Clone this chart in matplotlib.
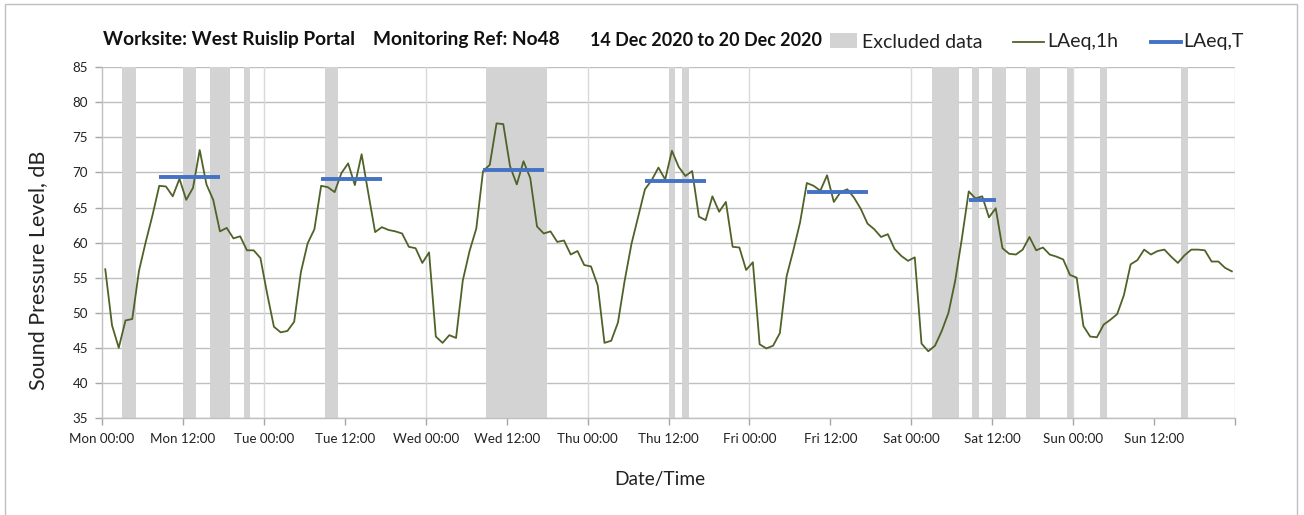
import matplotlib
matplotlib.use("Agg")
import matplotlib.pyplot as plt
from matplotlib.patches import Rectangle
from matplotlib.lines import Line2D

FONT = ["Lato", "DejaVu Sans"]
plt.rcParams['font.family'] = FONT

# ---------------- data ----------------
# hourly LAeq,1h values, Mon 00:00 .. Sun 23:00 (plotted at mid-hour)
laeq_1h = [
    56.2, 48.2, 45.0, 48.9, 49.1, 56.0, 60.1, 63.9, 68.1, 68.0, 66.6, 69.1,
    66.1, 67.8, 73.2, 68.3, 66.1, 61.6, 62.1, 60.6, 60.9, 58.9, 58.9, 57.8,
    52.7, 48.0, 47.2, 47.4, 48.7, 55.8, 59.9, 61.9, 68.1, 67.9, 67.2, 69.9,
    71.3, 68.2, 72.6, 67.0, 61.5, 62.2, 61.8, 61.6, 61.3, 59.4, 59.2, 57.1,
    58.6, 46.6, 45.7, 46.8, 46.4, 54.6, 58.8, 62.0, 70.2, 71.1, 77.0, 76.9,
    70.9, 68.3, 71.6, 69.2, 62.3, 61.3, 61.6, 60.1, 60.3, 58.3, 58.8, 56.8,
    56.6, 53.9, 45.7, 46.0, 48.6, 54.6, 59.8, 63.7, 67.6, 68.9, 70.7, 69.0,
    73.1, 70.8, 69.5, 70.2, 63.7, 63.2, 66.6, 64.4, 65.8, 59.4, 59.3, 56.1,
    57.2, 45.5, 44.9, 45.3, 47.1, 55.2, 58.9, 62.9, 68.5, 68.1, 67.4, 69.6,
    65.8, 67.2, 67.6, 66.4, 64.8, 62.7, 61.9, 60.8, 61.2, 59.1, 58.1, 57.4,
    57.9, 45.6, 44.5, 45.3, 47.4, 50.0, 54.6, 60.7, 67.3, 66.3, 66.6, 63.6,
    64.9, 59.2, 58.4, 58.3, 59.0, 60.8, 58.9, 59.3, 58.3, 58.0, 57.6, 55.4,
    55.0, 48.1, 46.6, 46.5, 48.3, 49.0, 49.8, 52.5, 56.9, 57.5, 59.0, 58.3,
    58.8, 59.0, 58.0, 57.1, 58.2, 59.0, 59.0, 58.9, 57.3, 57.3, 56.4, 55.9,
]
hours = [h + 0.5 for h in range(len(laeq_1h))]

# LAeq,T periods: (first hour, last hour, level)
laeq_t_start = [8.5, 32.5, 56.5, 80.5, 104.5, 128.5]
laeq_t_end = [17.5, 41.5, 65.5, 89.5, 113.5, 132.5]
laeq_t_value = [69.4, 69.0, 70.3, 68.8, 67.2, 66.1]

# excluded data periods (hour from Mon 00:00)
excl_start = [3, 12, 16, 21, 33, 57, 84, 86, 123, 129, 132, 137, 143, 148, 160]
excl_end = [5, 14, 19, 22, 35, 66, 85, 87, 127, 130, 134, 139, 144, 149, 161]

tick_hours = list(range(0, 169, 12))
tick_labels = ["Mon 00:00", "Mon 12:00", "Tue 00:00", "Tue 12:00", "Wed 00:00",
               "Wed 12:00", "Thu 00:00", "Thu 12:00", "Fri 00:00", "Fri 12:00",
               "Sat 00:00", "Sat 12:00", "Sun 00:00", "Sun 12:00", ""]

title_parts = ["Worksite: West Ruislip Portal", "Monitoring Ref: No48",
               "14 Dec 2020 to 20 Dec 2020"]

# ---------------- figure ----------------
W, H = 1304, 515
fig = plt.figure(figsize=(W / 100, H / 100), dpi=100)
fig.patch.set_facecolor("white")

def fx(x):
    return x / W

def fy(y):
    return 1 - y / H

ax = fig.add_axes([fx(101.9), fy(417.9), fx(1235.2) - fx(101.9), fy(67.3) - fy(417.9)])

GREEN = "#4F6228"
BLUE = "#4472C4"
BAND = "#D3D3D3"

for s, e in zip(excl_start, excl_end):
    ax.axvspan(s, e, color=BAND, lw=0, zorder=1)

# grid
for y in range(35, 90, 5):
    ax.axhline(y, color="#BFBFBF", lw=1.0, zorder=0.5)
for d in range(24, 169, 24):
    ax.axvline(d, color="#D9D9D9", lw=1.0, zorder=0.5)

ax.plot(hours, laeq_1h, color=GREEN, lw=1.3, zorder=3)
for s, e, v in zip(laeq_t_start, laeq_t_end, laeq_t_value):
    ax.plot([s, e], [v, v], color=BLUE, lw=2.8, zorder=4, solid_capstyle="butt")

ax.set_xlim(0, 168)
ax.set_ylim(35, 85)
ax.set_yticks(range(35, 90, 5))
ax.set_xticks(tick_hours)
ax.set_xticklabels(tick_labels)

for sp in ["top", "right"]:
    ax.spines[sp].set_visible(False)
for sp in ["left", "bottom"]:
    ax.spines[sp].set_color("#BFBFBF")
    ax.spines[sp].set_linewidth(1.0)
ax.tick_params(axis="both", colors="#A6A6A6", length=5, width=1.0,
               labelcolor="#222222", labelsize=9.6)
ax.tick_params(axis="x", pad=6)
ax.tick_params(axis="y", pad=5)

fig.text(fx(38), fy(270), "Sound Pressure Level, dB", fontsize=15.5, color="#222222",
         ha="center", va="center", rotation=90)
fig.text(fx(660), fy(480), "Date/Time", fontsize=13.8, color="#222222",
         ha="center", va="center")

# title pieces
title_x = [103, 373, 590]
title_size = [13.8, 13.8, 12.9]
for x, t, s in zip(title_x, title_parts, title_size):
    fig.text(fx(x), fy(40), t, fontsize=s, fontweight="bold", color="#111111",
             ha="left", va="center")

# legend
fig.patches.append(Rectangle((fx(830), fy(48)), fx(27), fy(33) - fy(48),
                             transform=fig.transFigure, facecolor=BAND, edgecolor="none"))
fig.text(fx(862), fy(42), "Excluded data", fontsize=14, color="#222222", ha="left", va="center")
fig.lines.append(Line2D([fx(1013), fx(1044)], [fy(42), fy(42)], transform=fig.transFigure,
                        color=GREEN, lw=1.3))
fig.text(fx(1047), fy(42), "LAeq,1h", fontsize=14, color="#222222", ha="left", va="center")
fig.lines.append(Line2D([fx(1151), fx(1181)], [fy(42), fy(42)], transform=fig.transFigure,
                        color=BLUE, lw=2.8))
fig.text(fx(1183), fy(42), "LAeq,T", fontsize=14, color="#222222", ha="left", va="center")

# outer border
fig.patches.append(Rectangle((fx(5), fy(516)), fx(1297) - fx(5), fy(4) - fy(516),
                             transform=fig.transFigure, facecolor="none",
                             edgecolor="#BFBFBF", lw=1.0))

fig.savefig("out.png", dpi=100)
